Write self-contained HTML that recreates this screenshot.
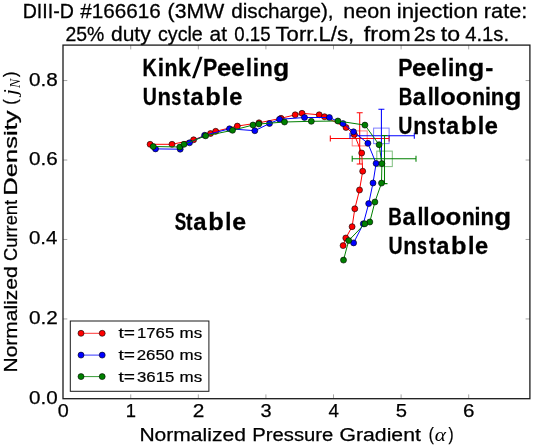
<!DOCTYPE html>
<html><head><meta charset="utf-8"><title>Stability diagram</title>
<style>html,body{margin:0;padding:0;background:#fff;}body{width:533px;height:446px;overflow:hidden;}svg{display:block;will-change:transform;}text{font-family:"Liberation Sans",sans-serif;fill:#000;}.t{font-size:21px;stroke:#000;stroke-width:0.3px;}.b{font-size:24.4px;font-weight:bold;stroke:#000;stroke-width:0.3px;}.k{font-size:18.5px;stroke:#000;stroke-width:0.25px;}.l{font-size:18px;stroke:#000;stroke-width:0.25px;}.g{font-size:14px;stroke:#000;stroke-width:0.2px;}.m{font-family:"Liberation Serif",serif;font-style:italic;font-size:21px;}</style></head><body>
<svg width="533" height="446" viewBox="0 0 533 446">
<rect x="0" y="0" width="533" height="446" fill="#ffffff"/>
<text class="t" x="22.63" y="17.70" textLength="51.19" lengthAdjust="spacingAndGlyphs">DIII-D</text>
<text class="t" x="80.30" y="17.70" textLength="80.45" lengthAdjust="spacingAndGlyphs">#166616</text>
<text class="t" x="167.63" y="17.70" textLength="56.55" lengthAdjust="spacingAndGlyphs">(3MW</text>
<text class="t" x="231.17" y="17.70" textLength="102.45" lengthAdjust="spacingAndGlyphs">discharge),</text>
<text class="t" x="343.30" y="17.70" textLength="47.81" lengthAdjust="spacingAndGlyphs">neon</text>
<text class="t" x="396.86" y="17.70" textLength="81.30" lengthAdjust="spacingAndGlyphs">injection</text>
<text class="t" x="483.89" y="17.70" textLength="43.42" lengthAdjust="spacingAndGlyphs">rate:</text>
<text class="t" x="65.43" y="41.40" textLength="38.83" lengthAdjust="spacingAndGlyphs">25%</text>
<text class="t" x="110.96" y="41.40" textLength="39.74" lengthAdjust="spacingAndGlyphs">duty</text>
<text class="t" x="158.01" y="41.40" textLength="44.80" lengthAdjust="spacingAndGlyphs">cycle</text>
<text class="t" x="209.57" y="41.40" textLength="17.39" lengthAdjust="spacingAndGlyphs">at</text>
<text class="t" x="234.25" y="41.40" textLength="36.32" lengthAdjust="spacingAndGlyphs">0.15</text>
<text class="t" x="275.56" y="41.40" textLength="78.58" lengthAdjust="spacingAndGlyphs">Torr.L/s,</text>
<text class="t" x="363.87" y="41.40" textLength="46.81" lengthAdjust="spacingAndGlyphs">from</text>
<text class="t" x="413.77" y="41.40" textLength="21.75" lengthAdjust="spacingAndGlyphs">2s</text>
<text class="t" x="440.85" y="41.40" textLength="19.30" lengthAdjust="spacingAndGlyphs">to</text>
<text class="t" x="465.20" y="41.40" textLength="43.88" lengthAdjust="spacingAndGlyphs">4.1s.</text>
<path d="M130.74 398.70v-4.3M130.74 45.10v4.3M198.33 398.70v-4.3M198.33 45.10v4.3M265.92 398.70v-4.3M265.92 45.10v4.3M333.51 398.70v-4.3M333.51 45.10v4.3M401.10 398.70v-4.3M401.10 45.10v4.3M468.69 398.70v-4.3M468.69 45.10v4.3M63.00 318.94h4.3M529.90 318.94h-4.3M63.00 239.48h4.3M529.90 239.48h-4.3M63.00 160.02h4.3M529.90 160.02h-4.3M63.00 80.56h4.3M529.90 80.56h-4.3" stroke="#1a1a1a" stroke-width="0.6" stroke-opacity="0.65" fill="none"/>
<path d="M330.3 138.4H389.1M359.7 112.8V164.0M330.3 135.4v6.0M389.1 135.4v6.0M356.7 112.8h6.0M356.7 164.0h6.0" stroke="#ff0000" stroke-width="1.05" fill="none"/>
<rect x="352.2" y="130.9" width="15.0" height="15.0" fill="none" stroke="#ff0000" stroke-opacity="0.5" stroke-width="1"/>
<path d="M350.0 135.8H414.3M381.4 109.3V162.5M350.0 132.8v6.0M414.3 132.8v6.0M378.4 109.3h6.0M378.4 162.5h6.0" stroke="#0000ff" stroke-width="1.05" fill="none"/>
<rect x="373.6" y="128.1" width="15.5" height="15.5" fill="none" stroke="#0000ff" stroke-opacity="0.5" stroke-width="1"/>
<path d="M352.2 158.8H416.0M384.5 135.5V183.6M352.2 155.8v6.0M416.0 155.8v6.0M381.5 135.5h6.0M381.5 183.6h6.0" stroke="#008000" stroke-width="1.05" fill="none"/>
<rect x="376.8" y="151.1" width="15.5" height="15.5" fill="none" stroke="#008000" stroke-opacity="0.5" stroke-width="1"/>
<polyline points="150.1,144.3 172.0,144.3 193.6,139.8 210.5,133.5 215.7,131.3 237.3,126.1 259.0,122.8 281.0,118.3 295.2,114.8 302.0,113.3 319.2,114.8 324.5,116.7 346.0,127.5 354.3,134.5 361.7,153.0 362.7,171.2 359.5,190.0 354.8,208.8 352.1,226.7 345.8,238.0 343.1,245.6" fill="none" stroke="#ff0000" stroke-width="1.0" stroke-linejoin="round"/>
<g fill="#ff0000" stroke="#000" stroke-width="0.6"><circle cx="150.1" cy="144.3" r="3.0"/><circle cx="172.0" cy="144.3" r="3.0"/><circle cx="193.6" cy="139.8" r="3.0"/><circle cx="210.5" cy="133.5" r="3.0"/><circle cx="215.7" cy="131.3" r="3.0"/><circle cx="237.3" cy="126.1" r="3.0"/><circle cx="259.0" cy="122.8" r="3.0"/><circle cx="281.0" cy="118.3" r="3.0"/><circle cx="295.2" cy="114.8" r="3.0"/><circle cx="302.0" cy="113.3" r="3.0"/><circle cx="319.2" cy="114.8" r="3.0"/><circle cx="324.5" cy="116.7" r="3.0"/><circle cx="346.0" cy="127.5" r="3.0"/><circle cx="354.3" cy="134.5" r="3.0"/><circle cx="361.7" cy="153.0" r="3.0"/><circle cx="362.7" cy="171.2" r="3.0"/><circle cx="359.5" cy="190.0" r="3.0"/><circle cx="354.8" cy="208.8" r="3.0"/><circle cx="352.1" cy="226.7" r="3.0"/><circle cx="345.8" cy="238.0" r="3.0"/><circle cx="343.1" cy="245.6" r="3.0"/></g>
<polyline points="155.5,148.9 180.2,149.2 189.5,142.8 204.6,135.3 229.5,128.8 254.8,130.7 269.5,123.5 279.5,119.3 304.5,117.5 329.4,117.5 343.0,123.6 353.5,131.8 367.9,143.3 376.1,163.4 373.0,183.0 368.7,203.6 363.3,223.8 353.6,242.9" fill="none" stroke="#0000ff" stroke-width="1.0" stroke-linejoin="round"/>
<g fill="#0000ff" stroke="#000" stroke-width="0.6"><circle cx="155.5" cy="148.9" r="3.0"/><circle cx="180.2" cy="149.2" r="3.0"/><circle cx="189.5" cy="142.8" r="3.0"/><circle cx="204.6" cy="135.3" r="3.0"/><circle cx="229.5" cy="128.8" r="3.0"/><circle cx="254.8" cy="130.7" r="3.0"/><circle cx="269.5" cy="123.5" r="3.0"/><circle cx="279.5" cy="119.3" r="3.0"/><circle cx="304.5" cy="117.5" r="3.0"/><circle cx="329.4" cy="117.5" r="3.0"/><circle cx="343.0" cy="123.6" r="3.0"/><circle cx="353.5" cy="131.8" r="3.0"/><circle cx="367.9" cy="143.3" r="3.0"/><circle cx="376.1" cy="163.4" r="3.0"/><circle cx="373.0" cy="183.0" r="3.0"/><circle cx="368.7" cy="203.6" r="3.0"/><circle cx="363.3" cy="223.8" r="3.0"/><circle cx="353.6" cy="242.9" r="3.0"/></g>
<polyline points="153.2,146.5 179.8,147.0 184.0,144.3 205.7,135.8 232.5,130.3 253.0,125.0 258.8,124.0 284.5,122.0 311.3,121.3 337.9,121.0 364.9,125.1 379.1,144.7 381.9,163.6 381.5,183.1 374.9,202.0 369.8,222.0 364.8,223.8 348.7,240.6 343.5,260.1" fill="none" stroke="#008000" stroke-width="1.0" stroke-linejoin="round"/>
<g fill="#008000" stroke="#000" stroke-width="0.6"><circle cx="153.2" cy="146.5" r="3.0"/><circle cx="179.8" cy="147.0" r="3.0"/><circle cx="184.0" cy="144.3" r="3.0"/><circle cx="205.7" cy="135.8" r="3.0"/><circle cx="232.5" cy="130.3" r="3.0"/><circle cx="253.0" cy="125.0" r="3.0"/><circle cx="258.8" cy="124.0" r="3.0"/><circle cx="284.5" cy="122.0" r="3.0"/><circle cx="311.3" cy="121.3" r="3.0"/><circle cx="337.9" cy="121.0" r="3.0"/><circle cx="364.9" cy="125.1" r="3.0"/><circle cx="379.1" cy="144.7" r="3.0"/><circle cx="381.9" cy="163.6" r="3.0"/><circle cx="381.5" cy="183.1" r="3.0"/><circle cx="374.9" cy="202.0" r="3.0"/><circle cx="369.8" cy="222.0" r="3.0"/><circle cx="364.8" cy="223.8" r="3.0"/><circle cx="348.7" cy="240.6" r="3.0"/><circle cx="343.5" cy="260.1" r="3.0"/></g>
<rect x="63.0" y="45.1" width="466.9" height="353.6" fill="none" stroke="#1a1a1a" stroke-width="1.3"/>
<text class="k" x="57.86" y="416.60" textLength="11.01" lengthAdjust="spacingAndGlyphs">0</text>
<text class="k" x="125.76" y="416.60" textLength="10.23" lengthAdjust="spacingAndGlyphs">1</text>
<text class="k" x="192.69" y="416.60" textLength="11.61" lengthAdjust="spacingAndGlyphs">2</text>
<text class="k" x="260.62" y="416.60" textLength="11.12" lengthAdjust="spacingAndGlyphs">3</text>
<text class="k" x="328.53" y="416.60" textLength="10.47" lengthAdjust="spacingAndGlyphs">4</text>
<text class="k" x="395.69" y="416.60" textLength="11.24" lengthAdjust="spacingAndGlyphs">5</text>
<text class="k" x="463.06" y="416.60" textLength="11.48" lengthAdjust="spacingAndGlyphs">6</text>
<text class="k" x="28.98" y="403.90" textLength="28.67" lengthAdjust="spacingAndGlyphs">0.0</text>
<text class="k" x="28.97" y="323.94" textLength="28.89" lengthAdjust="spacingAndGlyphs">0.2</text>
<text class="k" x="28.98" y="244.48" textLength="28.45" lengthAdjust="spacingAndGlyphs">0.4</text>
<text class="k" x="28.98" y="165.02" textLength="28.78" lengthAdjust="spacingAndGlyphs">0.6</text>
<text class="k" x="28.98" y="85.56" textLength="28.78" lengthAdjust="spacingAndGlyphs">0.8</text>
<text class="l" x="139.42" y="441.30" textLength="106.47" lengthAdjust="spacingAndGlyphs">Normalized</text>
<text class="l" x="252.28" y="441.30" textLength="81.05" lengthAdjust="spacingAndGlyphs">Pressure</text>
<text class="l" x="339.54" y="441.30" textLength="81.32" lengthAdjust="spacingAndGlyphs">Gradient</text>
<text class="l" x="428.69" y="440.00" textLength="5.06" lengthAdjust="spacingAndGlyphs">(</text>
<text class="m" x="434.67" y="441.30" textLength="11.20" lengthAdjust="spacingAndGlyphs" style="font-size:19.5px">α</text>
<text class="l" x="448.42" y="440.00" textLength="5.06" lengthAdjust="spacingAndGlyphs">)</text>
<g transform="translate(17.2,221.3) rotate(-90)">
<text class="l" x="-151.18" y="0.00" textLength="106.06" lengthAdjust="spacingAndGlyphs">Normalized</text>
<text class="l" x="-39.61" y="0.00" textLength="60.97" lengthAdjust="spacingAndGlyphs">Current</text>
<text class="l" x="25.65" y="0.00" textLength="85.25" lengthAdjust="spacingAndGlyphs">Density</text>
<text class="l" x="116.62" y="-1.30" textLength="5.43" lengthAdjust="spacingAndGlyphs">(</text>
<text class="m" x="126.39" y="0.00" textLength="5.78" lengthAdjust="spacingAndGlyphs" style="font-size:18.5px">j</text>
<text class="m" x="133.24" y="3.10" textLength="9.20" lengthAdjust="spacingAndGlyphs" style="font-size:14.5px">N</text>
<text class="l" x="144.42" y="-1.30" textLength="5.43" lengthAdjust="spacingAndGlyphs">)</text>
</g>
<rect x="70.3" y="321.0" width="138.6" height="70.3" fill="#fff" stroke="#1a1a1a" stroke-width="1"/>
<path d="M81 333.3H102.2" stroke="#ff0000" stroke-width="0.8"/>
<g fill="#ff0000" stroke="#000" stroke-width="0.6"><circle cx="81" cy="333.3" r="3.0"/><circle cx="102.2" cy="333.3" r="3.0"/></g>
<text class="g" x="118.41" y="337.50" textLength="16.53" lengthAdjust="spacingAndGlyphs">t=</text>
<text class="g" x="136.94" y="337.50" textLength="37.35" lengthAdjust="spacingAndGlyphs">1765</text>
<text class="g" x="179.60" y="337.50" textLength="22.60" lengthAdjust="spacingAndGlyphs">ms</text>
<path d="M81 355.1H102.2" stroke="#0000ff" stroke-width="0.8"/>
<g fill="#0000ff" stroke="#000" stroke-width="0.6"><circle cx="81" cy="355.1" r="3.0"/><circle cx="102.2" cy="355.1" r="3.0"/></g>
<text class="g" x="118.41" y="359.60" textLength="16.53" lengthAdjust="spacingAndGlyphs">t=</text>
<text class="g" x="136.76" y="359.60" textLength="37.45" lengthAdjust="spacingAndGlyphs">2650</text>
<text class="g" x="179.60" y="359.60" textLength="22.60" lengthAdjust="spacingAndGlyphs">ms</text>
<path d="M81 376.6H102.2" stroke="#008000" stroke-width="0.8"/>
<g fill="#008000" stroke="#000" stroke-width="0.6"><circle cx="81" cy="376.6" r="3.0"/><circle cx="102.2" cy="376.6" r="3.0"/></g>
<text class="g" x="118.41" y="381.60" textLength="16.53" lengthAdjust="spacingAndGlyphs">t=</text>
<text class="g" x="137.01" y="381.60" textLength="37.28" lengthAdjust="spacingAndGlyphs">3615</text>
<text class="g" x="179.60" y="381.60" textLength="22.60" lengthAdjust="spacingAndGlyphs">ms</text>
<text class="b" x="142.42" y="76.20" textLength="14.22" lengthAdjust="spacingAndGlyphs">K</text>
<text class="b" x="157.82" y="76.20" textLength="6.32" lengthAdjust="spacingAndGlyphs">i</text>
<text class="b" x="164.52" y="76.20" textLength="12.97" lengthAdjust="spacingAndGlyphs">n</text>
<text class="b" x="178.10" y="76.20" textLength="12.81" lengthAdjust="spacingAndGlyphs">k</text>
<polygon points="192.0,78.2 194.8,78.2 202.6,56.7 199.8,56.7" fill="#000"/>
<text class="b" x="203.11" y="76.20" textLength="14.28" lengthAdjust="spacingAndGlyphs">P</text>
<text class="b" x="216.90" y="76.20" textLength="14.30" lengthAdjust="spacingAndGlyphs">e</text>
<text class="b" x="231.03" y="76.20" textLength="13.85" lengthAdjust="spacingAndGlyphs">e</text>
<text class="b" x="246.01" y="76.20" textLength="5.94" lengthAdjust="spacingAndGlyphs">l</text>
<text class="b" x="252.72" y="76.20" textLength="6.32" lengthAdjust="spacingAndGlyphs">i</text>
<text class="b" x="259.39" y="76.20" textLength="13.22" lengthAdjust="spacingAndGlyphs">n</text>
<text class="b" x="273.15" y="76.20" textLength="15.97" lengthAdjust="spacingAndGlyphs">g</text>
<text class="b" x="142.63" y="104.80" textLength="14.09" lengthAdjust="spacingAndGlyphs">U</text>
<text class="b" x="157.47" y="104.80" textLength="13.48" lengthAdjust="spacingAndGlyphs">n</text>
<text class="b" x="171.27" y="104.80" textLength="9.98" lengthAdjust="spacingAndGlyphs">s</text>
<text class="b" x="183.10" y="104.80" textLength="6.55" lengthAdjust="spacingAndGlyphs">t</text>
<text class="b" x="190.41" y="104.80" textLength="13.18" lengthAdjust="spacingAndGlyphs">a</text>
<text class="b" x="205.25" y="104.80" textLength="15.48" lengthAdjust="spacingAndGlyphs">b</text>
<text class="b" x="222.08" y="104.80" textLength="6.51" lengthAdjust="spacingAndGlyphs">l</text>
<text class="b" x="229.17" y="104.80" textLength="13.17" lengthAdjust="spacingAndGlyphs">e</text>
<text class="b" x="398.31" y="76.20" textLength="14.28" lengthAdjust="spacingAndGlyphs">P</text>
<text class="b" x="412.10" y="76.20" textLength="14.30" lengthAdjust="spacingAndGlyphs">e</text>
<text class="b" x="426.23" y="76.20" textLength="13.85" lengthAdjust="spacingAndGlyphs">e</text>
<text class="b" x="441.21" y="76.20" textLength="5.94" lengthAdjust="spacingAndGlyphs">l</text>
<text class="b" x="447.92" y="76.20" textLength="6.32" lengthAdjust="spacingAndGlyphs">i</text>
<text class="b" x="454.59" y="76.20" textLength="13.22" lengthAdjust="spacingAndGlyphs">n</text>
<text class="b" x="468.35" y="76.20" textLength="15.97" lengthAdjust="spacingAndGlyphs">g</text>
<text class="b" x="485.15" y="76.20" textLength="8.07" lengthAdjust="spacingAndGlyphs">-</text>
<text class="b" x="398.67" y="105.00" textLength="13.62" lengthAdjust="spacingAndGlyphs">B</text>
<text class="b" x="412.71" y="105.00" textLength="13.18" lengthAdjust="spacingAndGlyphs">a</text>
<text class="b" x="427.71" y="105.00" textLength="5.94" lengthAdjust="spacingAndGlyphs">l</text>
<text class="b" x="433.52" y="105.00" textLength="6.32" lengthAdjust="spacingAndGlyphs">l</text>
<text class="b" x="440.21" y="105.00" textLength="15.50" lengthAdjust="spacingAndGlyphs">o</text>
<text class="b" x="455.80" y="105.00" textLength="15.72" lengthAdjust="spacingAndGlyphs">o</text>
<text class="b" x="472.11" y="105.00" textLength="13.10" lengthAdjust="spacingAndGlyphs">n</text>
<text class="b" x="484.91" y="105.00" textLength="5.94" lengthAdjust="spacingAndGlyphs">i</text>
<text class="b" x="490.87" y="105.00" textLength="13.48" lengthAdjust="spacingAndGlyphs">n</text>
<text class="b" x="504.59" y="105.00" textLength="16.93" lengthAdjust="spacingAndGlyphs">g</text>
<text class="b" x="398.33" y="133.60" textLength="14.09" lengthAdjust="spacingAndGlyphs">U</text>
<text class="b" x="413.17" y="133.60" textLength="13.48" lengthAdjust="spacingAndGlyphs">n</text>
<text class="b" x="426.97" y="133.60" textLength="9.98" lengthAdjust="spacingAndGlyphs">s</text>
<text class="b" x="438.80" y="133.60" textLength="6.55" lengthAdjust="spacingAndGlyphs">t</text>
<text class="b" x="446.11" y="133.60" textLength="13.18" lengthAdjust="spacingAndGlyphs">a</text>
<text class="b" x="460.95" y="133.60" textLength="15.48" lengthAdjust="spacingAndGlyphs">b</text>
<text class="b" x="477.78" y="133.60" textLength="6.51" lengthAdjust="spacingAndGlyphs">l</text>
<text class="b" x="484.87" y="133.60" textLength="13.17" lengthAdjust="spacingAndGlyphs">e</text>
<text class="b" x="174.67" y="230.20" textLength="11.47" lengthAdjust="spacingAndGlyphs">S</text>
<text class="b" x="186.01" y="230.20" textLength="6.45" lengthAdjust="spacingAndGlyphs">t</text>
<text class="b" x="193.20" y="230.20" textLength="13.29" lengthAdjust="spacingAndGlyphs">a</text>
<text class="b" x="208.35" y="230.20" textLength="15.48" lengthAdjust="spacingAndGlyphs">b</text>
<text class="b" x="225.27" y="230.20" textLength="6.13" lengthAdjust="spacingAndGlyphs">l</text>
<text class="b" x="232.33" y="230.20" textLength="13.85" lengthAdjust="spacingAndGlyphs">e</text>
<text class="b" x="388.37" y="225.10" textLength="13.62" lengthAdjust="spacingAndGlyphs">B</text>
<text class="b" x="402.41" y="225.10" textLength="13.18" lengthAdjust="spacingAndGlyphs">a</text>
<text class="b" x="417.41" y="225.10" textLength="5.94" lengthAdjust="spacingAndGlyphs">l</text>
<text class="b" x="423.22" y="225.10" textLength="6.32" lengthAdjust="spacingAndGlyphs">l</text>
<text class="b" x="429.91" y="225.10" textLength="15.50" lengthAdjust="spacingAndGlyphs">o</text>
<text class="b" x="445.50" y="225.10" textLength="15.72" lengthAdjust="spacingAndGlyphs">o</text>
<text class="b" x="461.81" y="225.10" textLength="13.10" lengthAdjust="spacingAndGlyphs">n</text>
<text class="b" x="474.61" y="225.10" textLength="5.94" lengthAdjust="spacingAndGlyphs">i</text>
<text class="b" x="480.57" y="225.10" textLength="13.48" lengthAdjust="spacingAndGlyphs">n</text>
<text class="b" x="494.29" y="225.10" textLength="16.93" lengthAdjust="spacingAndGlyphs">g</text>
<text class="b" x="388.43" y="253.70" textLength="14.09" lengthAdjust="spacingAndGlyphs">U</text>
<text class="b" x="403.27" y="253.70" textLength="13.48" lengthAdjust="spacingAndGlyphs">n</text>
<text class="b" x="417.07" y="253.70" textLength="9.98" lengthAdjust="spacingAndGlyphs">s</text>
<text class="b" x="428.90" y="253.70" textLength="6.55" lengthAdjust="spacingAndGlyphs">t</text>
<text class="b" x="436.21" y="253.70" textLength="13.18" lengthAdjust="spacingAndGlyphs">a</text>
<text class="b" x="451.05" y="253.70" textLength="15.48" lengthAdjust="spacingAndGlyphs">b</text>
<text class="b" x="467.88" y="253.70" textLength="6.51" lengthAdjust="spacingAndGlyphs">l</text>
<text class="b" x="474.97" y="253.70" textLength="13.17" lengthAdjust="spacingAndGlyphs">e</text>
</svg></body></html>
